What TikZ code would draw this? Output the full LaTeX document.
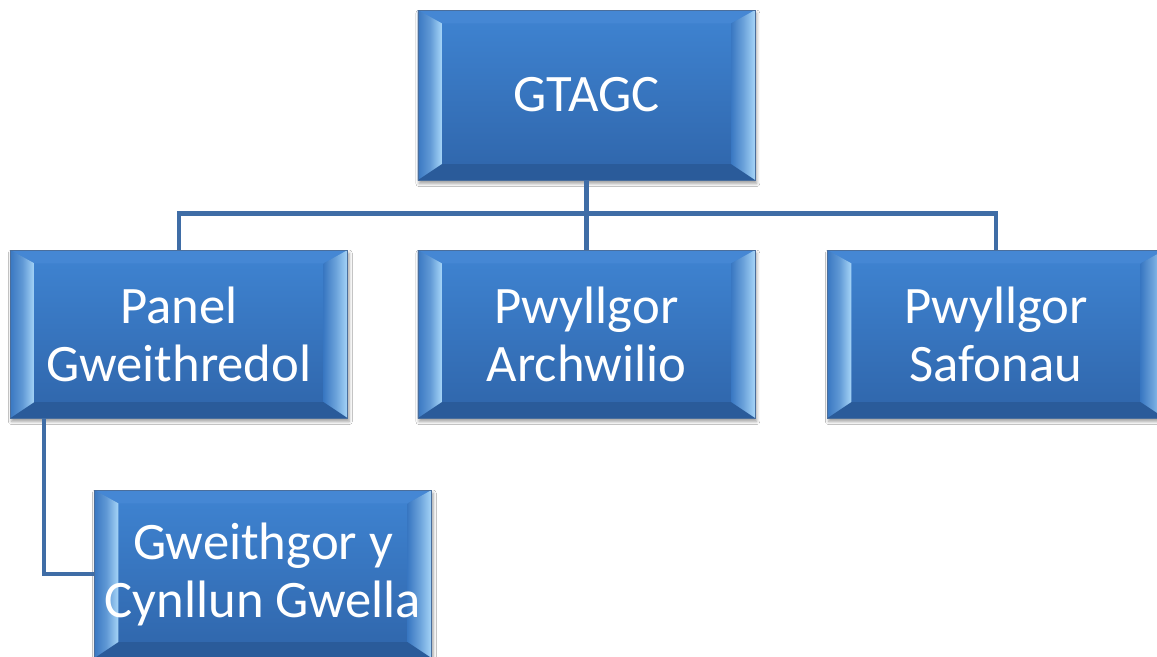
\documentclass[tikz,border=0pt]{standalone}
\usepackage{fontspec}
\setmainfont{Carlito}
\usetikzlibrary{calc,shadows.blur}
\definecolor{faceT}{HTML}{3F84D2}
\definecolor{faceB}{HTML}{2F65AA}
\definecolor{bevLight}{HTML}{A6D5F8}
\definecolor{bevMid}{HTML}{3A78C2}
\definecolor{bevTop}{HTML}{4587D4}
\definecolor{bevBot}{HTML}{2A5B9A}
\definecolor{edgeC}{HTML}{4A6E9C}
\definecolor{connC}{HTML}{3F6DA6}
\tikzset{
  bevbox/.style={rectangle, inner sep=0pt,
    minimum width=253pt, minimum height=126pt,
    top color=faceT, bottom color=faceB,
    draw=edgeC, line width=0.5pt,
    text=white, align=center,
    font=\fontsize{39.5}{43.5}\selectfont,
    blur shadow={shadow xshift=1pt, shadow yshift=-2.5pt, shadow blur radius=2.5pt, shadow opacity=40},
    path picture={
      \coordinate (bnw) at (path picture bounding box.north west);
      \coordinate (bne) at (path picture bounding box.north east);
      \coordinate (bsw) at (path picture bounding box.south west);
      \coordinate (bse) at (path picture bounding box.south east);
      \fill[bevTop] (bnw) -- (bne) -- ($(bne)+(-18pt,-10pt)$) -- ($(bnw)+(18pt,-10pt)$) -- cycle;
      \fill[bevBot] (bsw) -- (bse) -- ($(bse)+(-18pt,12pt)$) -- ($(bsw)+(18pt,12pt)$) -- cycle;
      \shade[left color=bevMid, right color=bevLight, middle color=bevMid!65!bevLight]
        (bnw) -- ($(bnw)+(18pt,-10pt)$) -- ($(bsw)+(18pt,12pt)$) -- (bsw) -- cycle;
      \shade[left color=bevMid, right color=bevLight, middle color=bevMid!55!bevLight]
        (bne) -- ($(bne)+(-18pt,-10pt)$) -- ($(bse)+(-18pt,12pt)$) -- (bse) -- cycle;
    }},
  conn/.style={draw=connC, line width=3.4pt}
}
\begin{document}
\begin{tikzpicture}[x=0.75pt, y=-0.75pt]
  \useasboundingbox (0,0) rectangle (1157,657);
  \clip (0,0) rectangle (1157,657);
  \fill[white] (0,0) rectangle (1157,657);
  \node[bevbox, minimum height=127.5pt] (top) at (586.5,95) {GTAGC};
  \node[bevbox] (panel) at (179,334) {Panel\\Gweithredol};
  \node[bevbox] (arch) at (586.5,334) {Pwyllgor\\Archwilio};
  \node[bevbox] (saf) at (996,334) {Pwyllgor\\Safonau};
  \node[bevbox] (gweith) at (263,574) {Gweithgor y\\Cynllun Gwella};
  \coordinate (j) at ($(top.south)+(0,-24.75pt)$);
  \coordinate (pb) at ($(panel.south west)+(25.5pt,0)$);
  \draw[conn] (top.south) -- (j);
  \draw[conn] (panel.north) |- (j) -| (saf.north);
  \draw[conn] (j) -- (arch.north);
  \draw[conn] (pb) |- (gweith.west);
\end{tikzpicture}
\end{document}
